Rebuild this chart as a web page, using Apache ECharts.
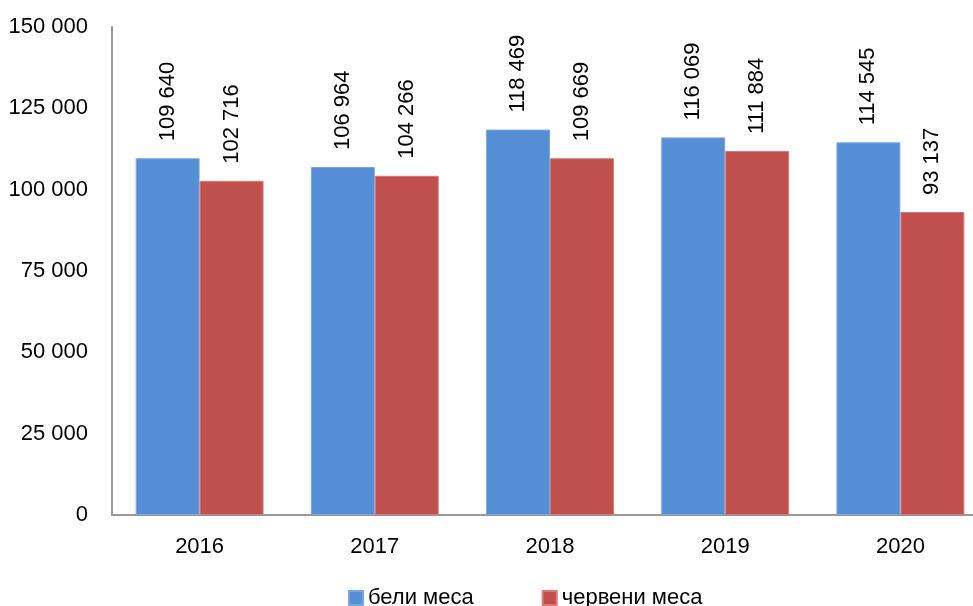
<!DOCTYPE html>
<html>
<head>
<meta charset="utf-8">
<title>бели и червени меса</title>
<script src="https://cdn.jsdelivr.net/npm/echarts@6/dist/echarts.min.js"></script>
<style>
    html, body { margin: 0; padding: 0; background: #fff; }
    #chart { width: 973px; height: 606px; }
</style>
</head>
<body>
<div id="chart"></div>
<script>
// данни
var years = ["2016", "2017", "2018", "2019", "2020"];
var white = [109640, 106964, 118469, 116069, 114545];
var red = [102716, 104266, 109669, 111884, 93137];
var seriesNames = ["бели меса", "червени меса"];

var FONT = "'Liberation Sans', Arial, sans-serif";

// 150000 -> "150 000"
function fmt(v) {
    return String(v).replace(/\B(?=(\d{3})+(?!\d))/g, " ");
}

(function () {
    var myChart = echarts.init(document.getElementById("chart"));
    var barLabel = {
        show: true,
        position: "top",
        rotate: 90,
        align: "left",
        verticalAlign: "middle",
        distance: 17,
        color: "#000",
        fontFamily: FONT,
        fontSize: 22,
        formatter: function (p) { return fmt(p.value); }
    };
    var option = {
        animation: false,
        textStyle: { fontFamily: FONT },
        grid: {
            left: 112,
            right: -15,
            top: 27,
            bottom: 91,
            outerBoundsMode: "none"
        },
        legend: {
            top: 582,
            left: 343,
            itemWidth: 14,
            itemHeight: 14,
            itemGap: 68,
            icon: "rect",
            textStyle: { fontFamily: FONT, fontSize: 22, color: "#000" },
            data: seriesNames
        },
        xAxis: {
            type: "category",
            data: years,
            axisTick: { show: false },
            axisLine: { lineStyle: { color: "#999", width: 2 } },
            axisLabel: {
                color: "#000",
                fontFamily: FONT,
                fontSize: 22,
                margin: 21
            }
        },
        yAxis: {
            type: "value",
            min: 0,
            max: 150000,
            interval: 25000,
            axisLine: { show: true, lineStyle: { color: "#999", width: 2 } },
            axisTick: { show: false },
            splitLine: { show: false },
            axisLabel: {
                color: "#000",
                fontFamily: FONT,
                fontSize: 22,
                margin: 24,
                formatter: fmt
            }
        },
        series: [
            {
                name: seriesNames[0],
                type: "bar",
                data: white,
                barGap: "0%",
                barCategoryGap: "27%",
                itemStyle: { color: "#558ED5", borderColor: "#7aa7e0", borderWidth: 1 },
                label: barLabel
            },
            {
                name: seriesNames[1],
                type: "bar",
                data: red,
                barGap: "0%",
                barCategoryGap: "27%",
                itemStyle: { color: "#C0504D", borderColor: "#d57a78", borderWidth: 1 },
                label: barLabel
            }
        ]
    };
    myChart.setOption(option);
    window.addEventListener("resize", function () {
        myChart.resize();
    });
})();
</script>
</body>
</html>
